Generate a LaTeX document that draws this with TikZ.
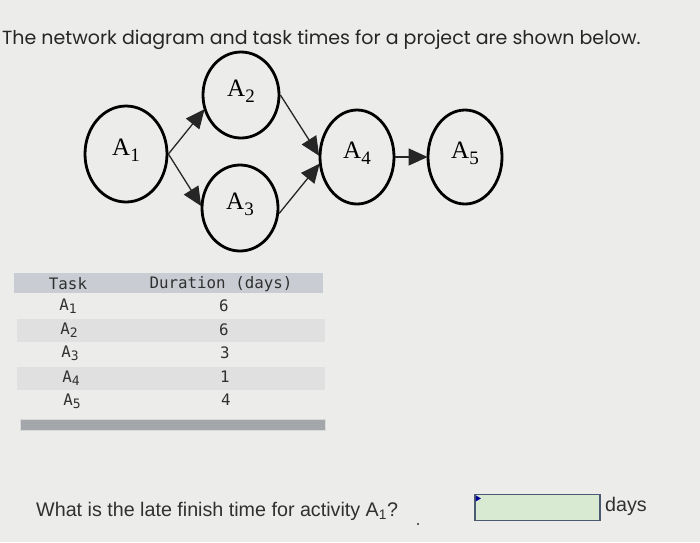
\documentclass[tikz,border=0pt]{standalone}
\usepackage{fontspec}
\setmainfont{Liberation Serif}
\setsansfont{Liberation Sans}
\setmonofont{DejaVu Sans Mono}
\newfontfamily\titlefont{Poppins}
\usetikzlibrary{shapes.geometric,arrows.meta}
\definecolor{bg}{HTML}{ECECEB}
\definecolor{hdr}{HTML}{C9CDD3}
\definecolor{alt}{HTML}{E0E0E0}
\definecolor{barc}{HTML}{A3A7AC}
\definecolor{txt}{HTML}{303030}
\definecolor{boxg}{HTML}{D9EAD3}
\definecolor{boxb}{HTML}{4A5A70}
\tikzset{
  act/.style={draw=black, line width=2.8pt, ellipse, inner sep=0pt, minimum width=76pt, minimum height=86pt, font=\fontsize{25}{25}\selectfont},
  lab/.style={inner sep=0pt, font=\fontsize{25}{25}\selectfont, yshift=4pt},
  conn/.style={line width=1.3pt, draw=black!85, -{Triangle[length=19pt,width=17pt]}, shorten >=-1pt},
  tab/.style={font=\ttfamily\fontsize{15.8}{16}\selectfont, text=txt, inner sep=0pt, anchor=center},
}
\newcommand{\Asub}[1]{A\raisebox{-6pt}{\fontsize{19}{19}\selectfont #1}}
\newcommand{\Tsub}[1]{A\raisebox{-3pt}{\fontsize{13}{13}\selectfont #1}}
\begin{document}
\begin{tikzpicture}[x=1pt,y=-1pt]
\fill[bg] (0,0) rectangle (700,542);
\useasboundingbox (0,0) rectangle (700,542);
\node[font=\titlefont\fontsize{19}{19}\selectfont, text=black!85, anchor=west, inner sep=0pt] (title) at (2,40) {The network diagram and task times for a project are shown below.};
% nodes
\node[act, minimum width=82pt, minimum height=96pt] (A1) at (126,154) {};
\node[act] (A2) at (241,95) {};
\node[act] (A3) at (240,208) {};
\node[act, minimum width=74pt, minimum height=94pt] (A4) at (357,157) {};
\node[act, minimum width=74pt, minimum height=94pt] (A5) at (465,157) {};
\node[lab] (L1) at (A1) {\Asub{1}};
\node[lab] (L2) at (A2) {\Asub{2}};
\node[lab] (L3) at (A3) {\Asub{3}};
\node[lab] (L4) at (A4) {\Asub{4}};
\node[lab] (L5) at (A5) {\Asub{5}};
\draw[conn] (A1.east) -- (A2.202);
\draw[conn] (A1.east) -- (A3.176);
\draw[conn] (A2.east) -- (A4.177);
\draw[conn] (A3.-8) -- (A4.191);
\draw[conn] (A4.east) -- (A5.west);
% table
\fill[hdr] (14,273) rectangle (323,293);
\fill[alt] (17,319) rectangle (325,342);
\fill[alt] (17,367) rectangle (325,390);
\node[tab] (th1) at (68,284) {Task};
\node[tab] (th2) at (221,284) {Duration (days)};
\node[tab] (t1) at (68,306) {\Tsub{1}};
\node[tab] (t2) at (69,330) {\Tsub{2}};
\node[tab] (t3) at (70,353) {\Tsub{3}};
\node[tab] (t4) at (71,378) {\Tsub{4}};
\node[tab] (t5) at (72,401) {\Tsub{5}};
\node[tab] (d1) at (224,306) {6};
\node[tab] (d2) at (224,330) {6};
\node[tab] (d3) at (225,353) {3};
\node[tab] (d4) at (225,377) {1};
\node[tab] (d5) at (226,400) {4};
\fill[barc, draw=white!85!black, line width=0.8pt] (20,419) rectangle (325,430);
% question
\node[font=\sffamily\fontsize{19.7}{20}\selectfont, text=txt, anchor=west, inner sep=0pt] (q) at (36,511) {What is the late finish time for activity A\textsubscript{1}?};
\fill[txt] (418,524) circle (1.1pt);
\node[draw=boxb, fill=boxg, line width=1.2pt, minimum width=125pt, minimum height=26pt, inner sep=0pt] (box) at (537.5,507.5) {};
\fill[blue!60!black] (box.north west) ++(1.5,1.5) -- ++(5,3) -- ++(-5,3) -- cycle;
\node[font=\sffamily\fontsize{19.7}{20}\selectfont, text=txt, anchor=west, inner sep=0pt] (days) at (605,506) {days};
\end{tikzpicture}
\end{document}
